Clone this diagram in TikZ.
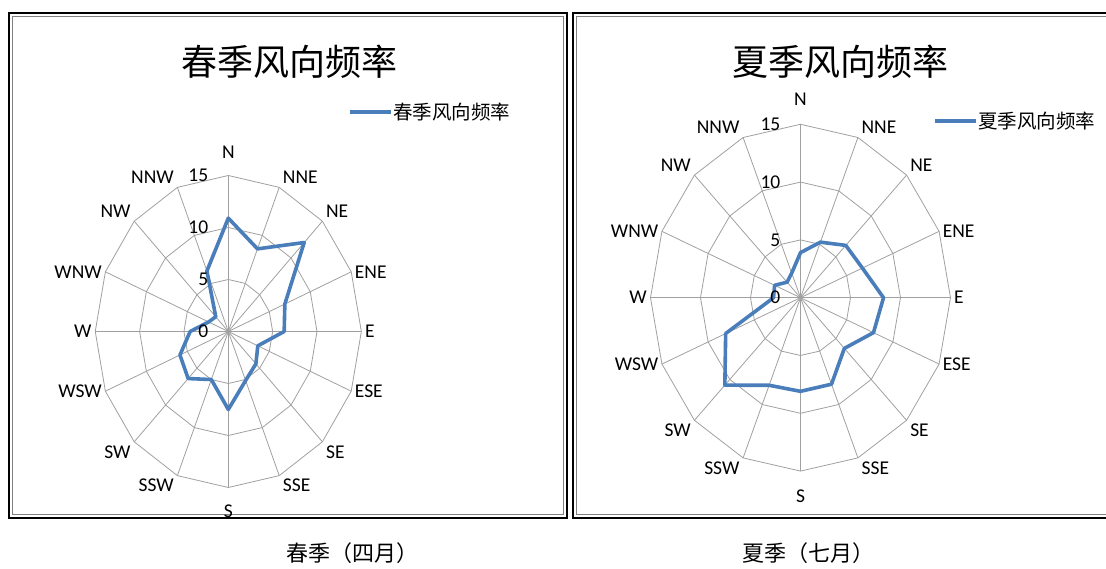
\documentclass[tikz,border=0pt]{standalone}
\usepackage{fontspec}
\newfontfamily\cjk{Noto Sans CJK SC}
\newfontfamily\lab{Carlito}
\definecolor{windblue}{RGB}{74,126,187}
\definecolor{gridgray}{RGB}{160,160,160}
\tikzset{
  grid line/.style={draw=gridgray, line width=0.8pt},
  wind line/.style={draw=windblue, line width=3.6pt, line join=round},
  dir label/.style={font=\lab\fontsize{19.5}{21}\selectfont, inner sep=3.5pt},
  val label/.style={font=\lab\fontsize{19.5}{21}\selectfont, anchor=east, inner sep=0pt},
  chart title/.style={font=\cjk\fontsize{36}{40}\selectfont, inner sep=0pt},
  key label/.style={font=\cjk\fontsize{19.5}{21}\selectfont, anchor=west, inner sep=0pt},
  panel caption/.style={font=\cjk\fontsize{22}{24}\selectfont, inner sep=0pt},
  panel/.style={draw=black, line width=2.2pt},
  panel inner/.style={draw=gray, line width=0.5pt}
}
\begin{document}
\begin{tikzpicture}[x=1pt, y=1pt]
  \useasboundingbox (0,0) rectangle (1106,568);

  \draw[panel] (9,555) rectangle (567,50);
  \draw[panel inner] (12.5,551.5) rectangle (563.5,53.5);
  \draw[panel] (573,555) rectangle (1112,50);
  \draw[panel inner] (576.5,551.5) rectangle (1112,53.5);

  \node[chart title] (sp-title) at (289,506) {春季风向频率};
  \node[key label] (sp-key) at (393,456) {春季风向频率};
  \coordinate (sp-keystart) at (350,456);
  \draw[wind line] (sp-keystart) -- ([xshift=-2pt]sp-key.west);

  \begin{scope}[shift={(228.3,236.5)}, xscale=8.87, yscale=10.4]
    \foreach \r in {5,10,15}
      \draw[grid line] (90:\r) \foreach \k in {1,...,15} { -- ({90-22.5*\k}:\r) } -- cycle;
    \foreach \k in {0,...,15}
      \draw[grid line] (0,0) -- ({90-22.5*\k}:15);
    \draw[wind line] (90:10.9) \foreach \v [count=\i] in
      {8.6,12.1,6.9,6.3,3.6,4.4,5.1,7.5,5.0,6.4,5.9,4.3,2.4,2.0,6.3}
      { -- ({90-22.5*\i}:\v) } -- cycle;
    \foreach \r in {0,5,10,15}
      \node[val label] (sp-v\r) at (-2.25,\r) {\r};
    \foreach \d/\a/\rr [count=\i from 0] in {N/south/16.3, NNE/south west/15,
        NE/south west/15, ENE/west/15, E/west/15, ESE/west/15, SE/north west/15,
        SSE/north west/15, S/north/16.3, SSW/north east/15, SW/north east/15,
        WSW/east/15, W/east/15, WNW/east/15, NW/south east/15, NNW/south east/15}
      \node[dir label, anchor=\a] (sp-\d) at ({90-22.5*\i}:\rr) {\d};
  \end{scope}

  \node[panel caption] (sp-cap) at (352,15) {春季（四月）};

  \node[chart title] (su-title) at (840,506) {夏季风向频率};
  \node[key label] (su-key) at (978,447) {夏季风向频率};
  \coordinate (su-keystart) at (935,447);
  \draw[wind line] (su-keystart) -- ([xshift=-2pt]su-key.west);

  \begin{scope}[shift={(800.5,270.3)}, xscale=10, yscale=11.56]
    \foreach \r in {5,10,15}
      \draw[grid line] (90:\r) \foreach \k in {1,...,15} { -- ({90-22.5*\k}:\r) } -- cycle;
    \foreach \k in {0,...,15}
      \draw[grid line] (0,0) -- ({90-22.5*\k}:15);
    \draw[wind line] (90:3.9) \foreach \v [count=\i] in
      {5.2,6.4,6.7,8.3,7.9,6.2,8.1,8.1,8.2,10.7,8.1,2.7,2.8,1.9,2.3}
      { -- ({90-22.5*\i}:\v) } -- cycle;
    \foreach \r in {0,5,10,15}
      \node[val label] (su-v\r) at (-2.0,\r) {\r};
    \foreach \d/\a/\rr [count=\i from 0] in {N/south/16.3, NNE/south west/15,
        NE/south west/15, ENE/west/15, E/west/15, ESE/west/15, SE/north west/15,
        SSE/north west/15, S/north/16.3, SSW/north east/15, SW/north east/15,
        WSW/east/15, W/east/15, WNW/east/15, NW/south east/15, NNW/south east/15}
      \node[dir label, anchor=\a] (su-\d) at ({90-22.5*\i}:\rr) {\d};
  \end{scope}

  \node[panel caption] (su-cap) at (808,15) {夏季（七月）};
\end{tikzpicture}
\end{document}
